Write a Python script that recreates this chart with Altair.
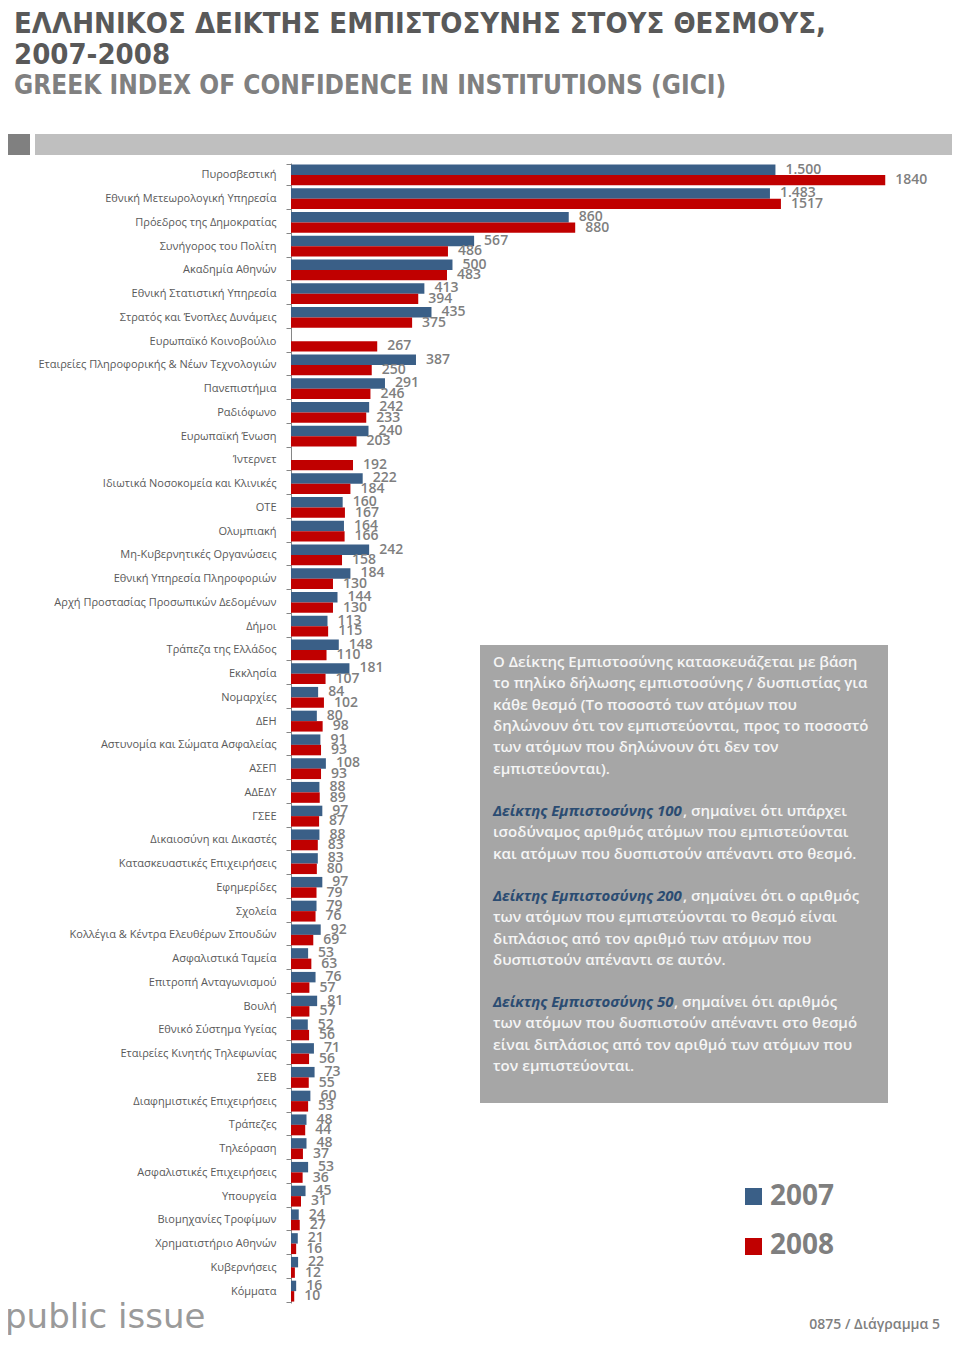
import altair as alt
import pandas as pd

categories = [
    "Πυροσβεστική", "Εθνική Μετεωρολογική Υπηρεσία", "Πρόεδρος της Δημοκρατίας",
    "Συνήγορος του Πολίτη", "Ακαδημία Αθηνών", "Εθνική Στατιστική Υπηρεσία",
    "Στρατός και Ένοπλες Δυνάμεις", "Ευρωπαϊκό Κοινοβούλιο",
    "Εταιρείες Πληροφορικής & Νέων Τεχνολογιών", "Πανεπιστήμια", "Ραδιόφωνο",
    "Ευρωπαϊκή Ένωση", "Ίντερνετ", "Ιδιωτικά Νοσοκομεία και Κλινικές", "ΟΤΕ",
    "Ολυμπιακή", "Μη-Κυβερνητικές Οργανώσεις", "Εθνική Υπηρεσία Πληροφοριών",
    "Αρχή Προστασίας Προσωπικών Δεδομένων", "Δήμοι", "Τράπεζα της Ελλάδος",
    "Εκκλησία", "Νομαρχίες", "ΔΕΗ", "Αστυνομία και Σώματα Ασφαλείας", "ΑΣΕΠ",
    "ΑΔΕΔΥ", "ΓΣΕΕ", "Δικαιοσύνη και Δικαστές", "Κατασκευαστικές Επιχειρήσεις",
    "Εφημερίδες", "Σχολεία", "Κολλέγια & Κέντρα Ελευθέρων Σπουδών",
    "Ασφαλιστικά Ταμεία", "Επιτροπή Ανταγωνισμού", "Βουλή",
    "Εθνικό Σύστημα Υγείας", "Εταιρείες Κινητής Τηλεφωνίας", "ΣΕΒ",
    "Διαφημιστικές Επιχειρήσεις", "Τράπεζες", "Τηλεόραση",
    "Ασφαλιστικές Επιχειρήσεις", "Υπουργεία", "Βιομηχανίες Τροφίμων",
    "Χρηματιστήριο Αθηνών", "Κυβερνήσεις", "Κόμματα",
]

values_2007 = [
    1500, 1483, 860, 567, 500, 413, 435, None, 387, 291, 242, 240, None, 222,
    160, 164, 242, 184, 144, 113, 148, 181, 84, 80, 91, 108, 88, 97, 88, 83,
    97, 79, 92, 53, 76, 81, 52, 71, 73, 60, 48, 48, 53, 45, 24, 21, 22, 16,
]

values_2008 = [
    1840, 1517, 880, 486, 483, 394, 375, 267, 250, 246, 233, 203, 192, 184,
    167, 166, 158, 130, 130, 115, 110, 107, 102, 98, 93, 93, 89, 87, 83, 80,
    79, 76, 69, 63, 57, 57, 56, 56, 55, 53, 44, 37, 36, 31, 27, 16, 12, 10,
]

series_names = ["2007", "2008"]
series_colors = ["#3A5F87", "#C00000"]

title_lines = ["ΕΛΛΗΝΙΚΟΣ ΔΕΙΚΤΗΣ ΕΜΠΙΣΤΟΣΥΝΗΣ ΣΤΟΥΣ ΘΕΣΜΟΥΣ,", "2007-2008"]
subtitle = "GREEK INDEX OF CONFIDENCE IN INSTITUTIONS (GICI)"

note_par1 = [
    "Ο Δείκτης Εμπιστοσύνης κατασκευάζεται με βάση",
    "το πηλίκο δήλωσης εμπιστοσύνης / δυσπιστίας για",
    "κάθε θεσμό (Το ποσοστό των ατόμων που",
    "δηλώνουν ότι τον εμπιστεύονται, προς το ποσοστό",
    "των ατόμων που δηλώνουν ότι δεν τον",
    "εμπιστεύονται).",
]
note_pars = [
    ("Δείκτης Εμπιστοσύνης 100", ", σημαίνει ότι υπάρχει",
     ["ισοδύναμος αριθμός ατόμων που εμπιστεύονται",
      "και ατόμων που δυσπιστούν απέναντι στο θεσμό."]),
    ("Δείκτης Εμπιστοσύνης 200", ", σημαίνει ότι ο αριθμός",
     ["των ατόμων που εμπιστεύονται το θεσμό είναι",
      "διπλάσιος από τον αριθμό των ατόμων που",
      "δυσπιστούν απέναντι σε αυτόν."]),
    ("Δείκτης Εμπιστοσύνης 50", ", σημαίνει ότι αριθμός",
     ["των ατόμων που δυσπιστούν απέναντι στο θεσμό",
      "είναι διπλάσιος από τον αριθμό των ατόμων που",
      "τον εμπιστεύονται."]),
]
footer_text = "0875 / Διάγραμμα 5"
logo_text = "public issue"

# ---- build long table ----
rows = []
for i, c in enumerate(categories):
    for s, vals in zip(series_names, [values_2007, values_2008]):
        v = vals[i]
        if v is None:
            continue
        lab = f"{v:,}".replace(",", ".") if s == "2007" else str(v)
        rows.append({"cat": c, "series": s, "value": v, "label": lab})
df = pd.DataFrame(rows)

FONT = "Open Sans"
W, H = 633, 1140

y_enc = alt.Y("cat:N", sort=categories,
              scale=alt.Scale(paddingInner=0.12, paddingOuter=0.06),
              axis=alt.Axis(title=None, tickBand="extent", tickSize=5,
                            labelPadding=10, labelFont=FONT, labelFontSize=11,
                            labelColor="#595959", domainColor="#868686",
                            tickColor="#868686", labelLimit=400))
x_enc = alt.X("value:Q", scale=alt.Scale(domain=[0, 1960], nice=False), axis=None)
yoff = alt.YOffset("series:N", sort=series_names, scale=alt.Scale(paddingInner=0))
color_enc = alt.Color("series:N", scale=alt.Scale(domain=series_names, range=series_colors),
                      legend=None)

base = alt.Chart(df)
bars = base.mark_bar().encode(y=y_enc, x=x_enc, yOffset=yoff, color=color_enc)
labels = base.mark_text(align="left", baseline="middle", dx=10, font=FONT,
                        fontSize=14, fontWeight=600, color="#7F7F7F").encode(
    y=alt.Y("cat:N", sort=categories), x=alt.X("value:Q"), yOffset=yoff, text="label:N")

one = alt.Data(values=[{}])


def txt(text, x, y, size, color, weight="normal", align="left", baseline="middle",
        font=FONT, style="normal"):
    return alt.Chart(one).mark_text(
        text=text, align=align, baseline=baseline, font=font, fontSize=size,
        fontWeight=weight, color=color, fontStyle=style,
    ).encode(x=alt.value(x), y=alt.value(y))


def box(x, x2, y, y2, color):
    return alt.Chart(one).mark_rect(color=color).encode(
        x=alt.value(x), x2=alt.value(x2), y=alt.value(y), y2=alt.value(y2))


# page coords -> plot coords: x - 291, y - 163
layers = [bars, labels]
TF = "DejaVu Sans Condensed"
layers.append(txt(title_lines[0], -277, -130, 29, "#595959", weight="bold",
                  baseline="alphabetic", font=TF))
layers.append(txt(title_lines[1], -277, -99, 29, "#595959", weight="bold",
                  baseline="alphabetic", font=TF))
layers.append(txt(subtitle, -277, -69, 26, "#808080", weight="bold",
                  baseline="alphabetic", font=TF))
layers.append(box(-291, -261, -29, -8, "#808080"))
layers.append(box(-256, 667, -29, -8, "#BFBFBF"))

# note box
layers.append(box(189, 597, 482, 940, "#A6A6A6"))
NX = 202
LH = 21.3
WHITE = "#F5F5F5"
BLUE = "#2B4C72"
for i, line in enumerate(note_par1):
    layers.append(txt(line, NX, 499 + i * LH, 15, WHITE, weight=600))
par_starts = [648, 733, 839]
prefix_ends = [392, 392, 383]
for (pre, rest, more), y0, pe in zip(note_pars, par_starts, prefix_ends):
    layers.append(txt(pre, NX, y0, 15, BLUE, weight="bold", style="italic"))
    layers.append(txt(rest, pe, y0, 15, WHITE, weight=600))
    for j, line in enumerate(more):
        layers.append(txt(line, NX, y0 + (j + 1) * LH, 15, WHITE, weight=600))

# legend
layers.append(box(454, 471, 1025, 1042, series_colors[0]))
layers.append(box(454, 471, 1075, 1092, series_colors[1]))
layers.append(txt(series_names[0], 479, 1034, 28, "#7F7F7F", weight="bold"))
layers.append(txt(series_names[1], 479, 1083, 28, "#7F7F7F", weight="bold"))

# footer
layers.append(txt(footer_text, 649, 1162, 14, "#7F7F7F", weight=600, align="right"))
layers.append(txt(logo_text, -286, 1165, 34, "#9A9A9A", font="DejaVu Sans",
                  baseline="alphabetic"))

chart = alt.layer(*layers).properties(
    width=W, height=H,
    autosize=alt.AutoSizeParams(type="none"),
    padding={"left": 283, "top": 155, "right": 28, "bottom": 34},
).configure_view(stroke=None)

chart.save("out.html", embed_options={"renderer": "svg", "actions": False})
